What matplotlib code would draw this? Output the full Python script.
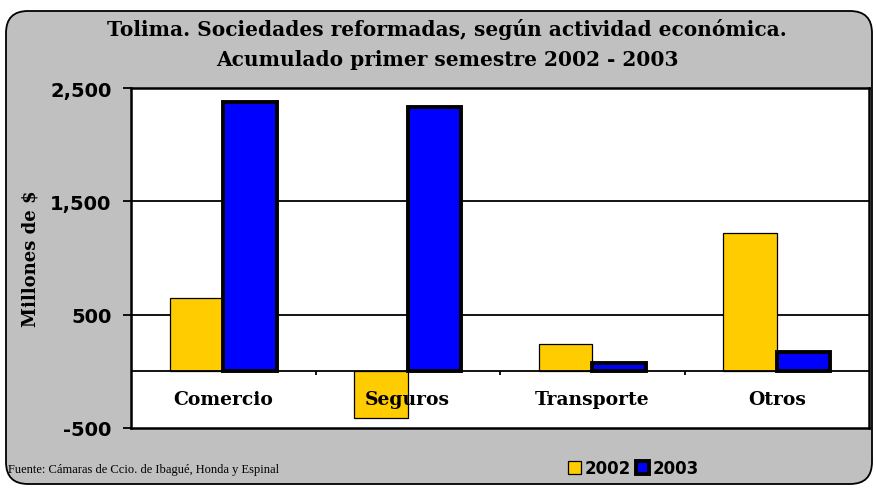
import numpy as np
import matplotlib.pyplot as plt
from matplotlib.patches import FancyBboxPatch

categorias = ["Comercio", "Seguros", "Transporte", "Otros"]
valores_2002 = [650, -415, 238, 1220]
valores_2003 = [2380, 2330, 70, 170]
yticks = [-500, 500, 1500, 2500]
ytick_labels = ["-500", "500", "1,500", "2,500"]

amarillo = "#FFCC00"
azul = "#0000FF"
gris = "#C0C0C0"

fig = plt.figure(figsize=(8.76, 4.89), dpi=100)
fig.patch.set_facecolor("white")

# fondo gris redondeado
caja = FancyBboxPatch((0.06, 0.04), 8.66, 4.73, boxstyle="round,pad=0,rounding_size=0.22",
                      transform=fig.dpi_scale_trans, facecolor=gris, edgecolor="black",
                      linewidth=1.3, zorder=-1)
fig.patches.append(caja)

ax = fig.add_axes([131 / 876, 1 - 429 / 489, (869 - 131) / 876, (429 - 89) / 489])
ax.set_zorder(1)
ax.set_facecolor("white")

x = np.arange(len(categorias))
w = 0.29
b1 = ax.bar(x - w / 2, valores_2002, w, color=amarillo, edgecolor="black", linewidth=0.9,
            label="2002", zorder=3)
b2 = ax.bar(x + w / 2, valores_2003, w, color=azul, edgecolor="black", linewidth=2.8,
            label="2003", zorder=3)

ax.set_xlim(-0.5, len(categorias) - 0.5)
ax.set_ylim(-500, 2500)
ax.set_yticks(yticks)
ax.set_yticklabels(ytick_labels, fontfamily="DejaVu Sans", fontweight="bold", fontsize=14)
ax.tick_params(axis="y", direction="out", length=6, width=1.3, pad=8)
ax.set_xticks([])
for yv in yticks[1:-1]:
    ax.axhline(yv, color="black", linewidth=1.3, zorder=1)
ax.axhline(0, color="black", linewidth=1.3, zorder=4)
ax.vlines(x[:-1] + 0.5, -35, 0, color="black", linewidth=1.3, zorder=4)
for s in ax.spines.values():
    s.set_linewidth(1.8)

for xi, c in zip(x, categorias):
    ax.text(xi, -245, c, ha="center", va="center", fontfamily="DejaVu Serif",
            fontweight="bold", fontsize=13.5, zorder=5)

ax.set_ylabel("Millones de $", fontfamily="DejaVu Serif", fontweight="bold", fontsize=13)
ax.yaxis.set_label_coords(-0.124, 0.5)

fig.text(447 / 876, 1 - 30 / 489, "Tolima. Sociedades reformadas, según actividad económica.",
         ha="center", va="center", fontfamily="DejaVu Serif", fontweight="bold", fontsize=14.5)
fig.text(447 / 876, 1 - 60 / 489, "Acumulado primer semestre 2002 - 2003",
         ha="center", va="center", fontfamily="DejaVu Serif", fontweight="bold", fontsize=14.5)

fig.text(8 / 876, 1 - 470 / 489, "Fuente: Cámaras de Ccio. de Ibagué, Honda y Espinal",
         ha="left", va="center", fontfamily="Liberation Serif", fontsize=9)

fig.legend(handles=[b1, b2], loc="center", bbox_to_anchor=(633 / 876, 1 - 469 / 489),
           ncol=2, frameon=False, prop={"family": "DejaVu Sans", "weight": "bold", "size": 12},
           handlelength=0.8, handleheight=0.8, handletextpad=0.2, columnspacing=0.3,
           borderpad=0)

fig.savefig("out.png", dpi=100)
